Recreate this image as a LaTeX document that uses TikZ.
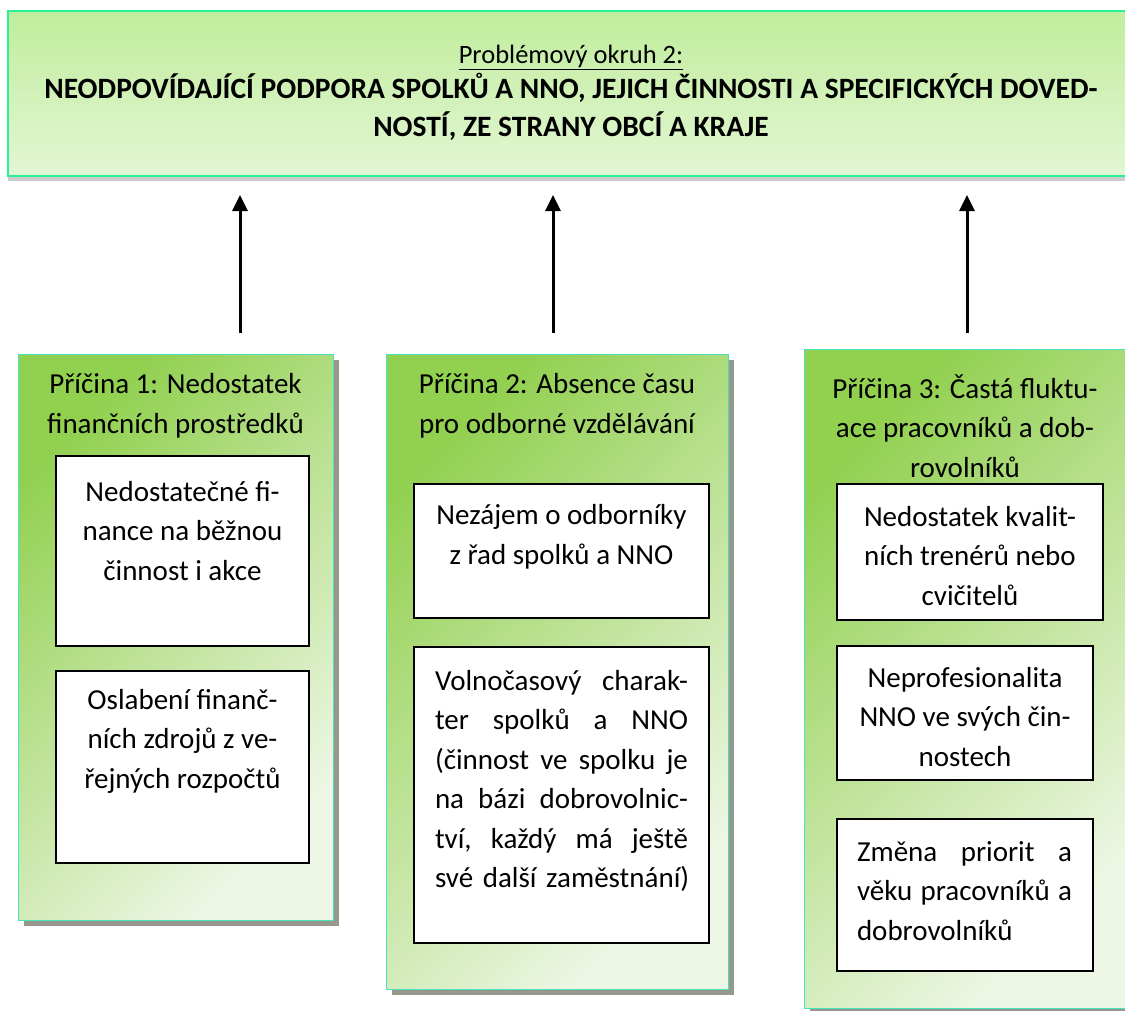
\documentclass[tikz,border=0pt]{standalone}
\usepackage{fontspec}
\setmainfont{Carlito}
\usetikzlibrary{arrows.meta,shadows}
\definecolor{mintline}{RGB}{40,240,150}
\definecolor{causeline}{RGB}{70,228,190}
\definecolor{toptop}{RGB}{192,237,156}
\definecolor{topbot}{RGB}{226,246,212}
\definecolor{greenA}{RGB}{146,208,80}
\definecolor{greenB}{RGB}{238,247,230}
\definecolor{shadowgray}{RGB}{150,152,140}
\begin{document}
\begin{tikzpicture}[x=1pt,y=-1pt,
    problembox/.style={draw=mintline, line width=2.5pt, top color=toptop, bottom color=topbot,
      drop shadow={shadow xshift=0pt, shadow yshift=-5pt, opacity=.4}, inner sep=0pt},
    causebox/.style={draw=causeline, line width=1pt, top color=greenA, bottom color=greenB,
      shading angle=45, drop shadow={shadow xshift=6pt, shadow yshift=-6pt, fill=shadowgray, opacity=1},
      inner sep=0pt},
    itembox/.style={draw=black, fill=white, line width=1.5pt, inner sep=0pt},
    txt/.style={align=center, inner sep=0pt, font=\fontsize{29}{39.5}\selectfont},
    uparrow/.style={-{Triangle[length=16pt,width=15pt]}, line width=3pt}]
    \useasboundingbox (0,0) rectangle (1125,1010);
    % Problem box
    \node[problembox, minimum width=1127pt, minimum height=165pt] (problem) at (571.5,93.5) {};
    \node[txt, font=\fontsize{29.5}{38}\selectfont] (problemtext) at (571,93) {{\fontsize{26.5}{30}\selectfont\underline{Problémový okruh 2:}}\\[-3pt]
      \bfseries NEODPOVÍDAJÍCÍ PODPORA SPOLKŮ A NNO, JEJICH ČINNOSTI A SPECIFICKÝCH DOVED-\\
      \bfseries NOSTÍ, ZE STRANY OBCÍ A KRAJE};
    % Arrows
    \coordinate (a1s) at (240,333);  \coordinate (a1e) at (240,195);
    \coordinate (a2s) at (553,333);  \coordinate (a2e) at (553,195);
    \coordinate (a3s) at (967,333);  \coordinate (a3e) at (967,195);
    \draw[uparrow] (a1s) -- (a1e);
    \draw[uparrow] (a2s) -- (a2e);
    \draw[uparrow] (a3s) -- (a3e);
    % Cause boxes
    \node[causebox, minimum width=315pt, minimum height=566pt] (cause1) at (175.5,637) {};
    \node[causebox, minimum width=342pt, minimum height=635pt] (cause2) at (557,671.5) {};
    \node[causebox, minimum width=326pt, minimum height=659pt] (cause3) at (967,678.5) {};
    \node[txt] (title1) at (175.5,406) {Příčina 1: Nedostatek\\finančních prostředků};
    \node[txt] (title2) at (557,406) {Příčina 2: Absence času\\pro odborné vzdělávání};
    \node[txt] (title3) at (965,426) {Příčina 3: Častá fluktu-\\ace pracovníků a dob-\\rovolníků};
    % Cause 1 items
    \node[itembox, minimum width=253pt, minimum height=190pt] (item1a) at (182.5,551) {};
    \node[txt] at (182.5,531) {Nedostatečné fi-\\nance na běžnou\\činnost i akce};
    \node[itembox, minimum width=253pt, minimum height=192pt] (item1b) at (182.5,767) {};
    \node[txt] at (182.5,741) {Oslabení finanč-\\ních zdrojů z ve-\\řejných rozpočtů};
    % Cause 2 items
    \node[itembox, minimum width=295pt, minimum height=134pt] (item2a) at (561.5,551) {};
    \node[txt] at (561.5,537) {Nezájem o odborníky\\z řad spolků a NNO};
    \node[itembox, minimum width=295pt, minimum height=296pt] (item2b) at (561.5,795) {};
    \node[txt, text width=253pt, align=left] at (561.5,781) {%
      \makebox[253pt][l]{Volnočasový\hfill charak-}\\
      \makebox[253pt][l]{ter\hfill spolků\hfill a\hfill NNO}\\
      \makebox[253pt][l]{(činnost\hfill ve\hfill spolku\hfill je}\\
      \makebox[253pt][l]{na\hfill bázi\hfill dobrovolnic-}\\
      \makebox[253pt][l]{tví,\hfill každý\hfill má\hfill ještě}\\
      \mbox{své další zaměstnání)}};
    % Cause 3 items
    \node[itembox, minimum width=266pt, minimum height=136pt] (item3a) at (970,552) {};
    \node[txt] at (970,556) {Nedostatek kvalit-\\ních trenérů nebo\\cvičitelů};
    \node[itembox, minimum width=256pt, minimum height=134pt] (item3b) at (965,713) {};
    \node[txt] at (965,717) {Neprofesionalita\\NNO ve svých čin-\\nostech};
    \node[itembox, minimum width=256pt, minimum height=152pt] (item3c) at (965,895) {};
    \node[txt, text width=215pt, align=left] at (964.5,891) {%
      \makebox[215pt][l]{Změna\hfill priorit\hfill a}\\
      \makebox[215pt][l]{věku\hfill pracovníků\hfill a}\\
      \mbox{dobrovolníků}};
\end{tikzpicture}
\end{document}
